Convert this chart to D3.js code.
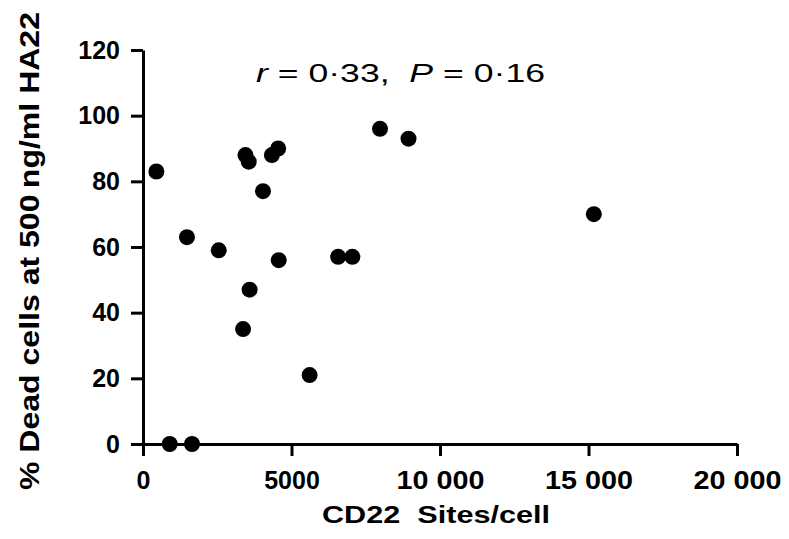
<!DOCTYPE html>
<html>
<head>
<meta charset="utf-8">
<script src="https://cdn.jsdelivr.net/npm/d3@7"></script>
<style>
    body { margin: 0; background: #fff; }
    svg { display: block; }
    .axis path, .axis line { stroke: #000; stroke-width: 3; }
    .axis text { font-family: "Liberation Sans", Arial, sans-serif; font-weight: bold; font-size: 25px; fill: #000; }
    .axis-title { font-family: "Liberation Sans", Arial, sans-serif; font-weight: bold; fill: #000; }
</style>
</head>
<body>
<svg id="chart" width="789" height="539"></svg>
<script>

// CD22 sites per cell vs % dead cells at 500 ng/ml HA22
var sitesPerCell = [450, 900, 1650, 1480, 2550, 3450, 3560, 4040, 4340, 4550, 4570, 3590, 3370, 5610, 6570, 7050, 7980, 8940, 15180];
var deadCells    = [83, 0, 0, 63, 59, 88, 86, 77, 88, 90, 56, 47, 35, 21, 57, 57, 96, 93, 70];

var xTicks = [0, 5000, 10000, 15000, 20000];
var yTicks = [0, 20, 40, 60, 80, 100, 120];

var xTitle = "CD22\u00a0\u00a0Sites/cell";
var yTitle = "% Dead cells at 500\u2009ng/ml HA22";

var svg = d3.select('#chart');

var margin = {top: 50, right: 52, bottom: 95, left: 143};
var width = 789 - margin.left - margin.right;
var height = 539 - margin.top - margin.bottom;

var g = svg.append('g')
    .attr('transform', 'translate(' + margin.left + ',' + margin.top + ')');

// Scales
var xScale = d3.scaleLinear().domain([0, 20000]).range([0, width]);
var yScale = d3.scaleLinear().domain([0, 120]).range([height, 0]);

// Thousands with a space, 5000 left as is
var formatX = function(d) {
    return d >= 10000 ? d3.format(',')(d).replace(',', '\u00a0') : d;
};

/*****************************/
// Axes
/*****************************/

var xAxis = g.append('g')
    .attr('class', 'axis')
    .attr('transform', 'translate(0,' + height + ')')
    .call(d3.axisBottom(xScale).tickValues(xTicks).tickFormat(formatX).tickSize(12).tickSizeOuter(0).tickPadding(15));

// The spaced labels run a bit wider in the figure
xAxis.selectAll('.tick text')
    .filter(function(d) { return d >= 10000; })
    .attr('textLength', function() { return this.getComputedTextLength() * 1.15; })
    .attr('lengthAdjust', 'spacingAndGlyphs');

g.append('g')
    .attr('class', 'axis')
    .call(d3.axisLeft(yScale).tickValues(yTicks).tickSize(12).tickSizeOuter(0).tickPadding(11));

// Axis titles (stretched to the widths in the figure)
svg.append('text')
    .attr('class', 'axis-title')
    .attr('x', 322)
    .attr('y', 523)
    .attr('textLength', 228)
    .attr('lengthAdjust', 'spacingAndGlyphs')
    .style('font-size', '24px')
    .text(xTitle);

svg.append('text')
    .attr('class', 'axis-title')
    .attr('transform', 'translate(39,490) rotate(-90)')
    .attr('textLength', 478)
    .attr('lengthAdjust', 'spacingAndGlyphs')
    .style('font-size', '28px')
    .text(yTitle);

/*****************************/
// Points
/*****************************/

g.selectAll('circle')
    .data(sitesPerCell)
    .enter()
    .append('circle')
    .attr('cx', function(d) { return xScale(d); })
    .attr('cy', function(d, i) { return yScale(deadCells[i]); })
    .attr('r', 8)
    .attr('fill', '#000');

// Correlation note
var note = svg.append('text')
    .attr('x', 256)
    .attr('y', 82)
    .attr('textLength', 289)
    .attr('lengthAdjust', 'spacingAndGlyphs')
    .style('font-family', '"Liberation Sans", Arial, sans-serif')
    .style('font-size', '25px')
    .attr('fill', '#000');

note.append('tspan').style('font-style', 'italic').text('r');
note.append('tspan').text('\u00a0=\u00a00\u00b733,\u00a0\u00a0');
note.append('tspan').style('font-style', 'italic').text('P');
note.append('tspan').text('\u00a0=\u00a00\u00b716');

</script>
</body>
</html>
